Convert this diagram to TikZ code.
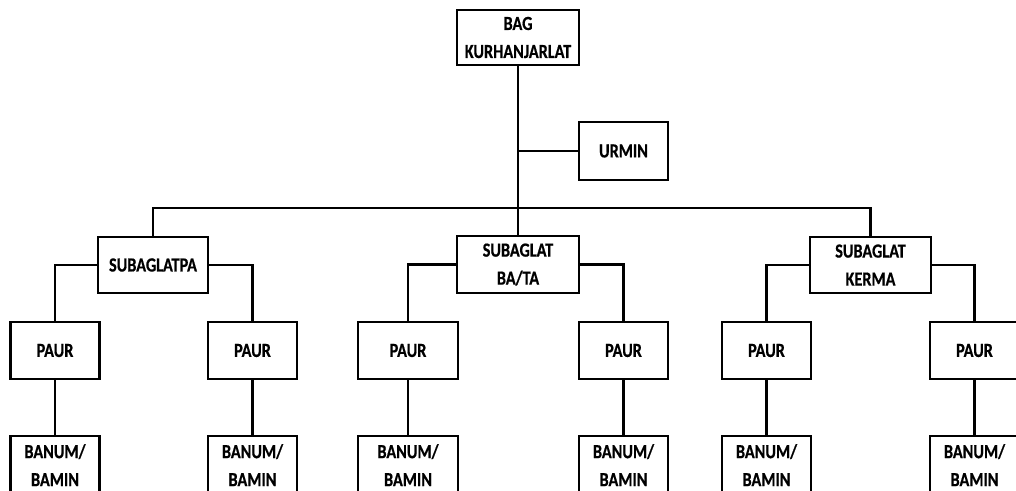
\documentclass[tikz,border=0pt]{standalone}
\usepackage{fontspec}
\newfontfamily\orgfont[FakeStretch=0.81,BoldFont={Carlito Bold},
  BoldFeatures={FakeBold=0.6}]{Carlito}
\usetikzlibrary{positioning}
\tikzset{
  orgbox/.style = {draw,line width=1.6pt,inner sep=0pt,align=center,
                   minimum width=66.75pt,minimum height=42.75pt,
                   font=\orgfont\bfseries\fontsize{15}{21}\selectfont},
  staffbox/.style = {orgbox,minimum height=43.5pt},
  link/.style   = {line width=1.6pt},
}

\begin{document}
\begin{tikzpicture}[x=0.75pt,y=-0.75pt,node distance=41.25pt]
  \useasboundingbox (0,0) rectangle (1016,490);
  % head and staff
  \node[orgbox,minimum width=91.5pt,minimum height=41.25pt] (bag) at (518,37.5) {BAG\\KURHANJARLAT};
  \node[orgbox,minimum height=43.5pt] (urmin) at (623.5,151) {URMIN};
  % sub sections
  \node[orgbox,minimum width=82.5pt,minimum height=42pt] (latpa) at (153,265) {SUBAGLATPA};
  \node[orgbox,minimum width=91.5pt] (bata) at (518,264.5) {SUBAGLAT\\BA/TA};
  \node[orgbox,minimum width=90.75pt,minimum height=42pt] (kerma) at (870.5,265) {SUBAGLAT\\KERMA};
  % paur row
  \node[orgbox] (paur1) at (55,350.5) {PAUR};
  \node[orgbox] (paur2) at (252.5,350.5) {PAUR};
  \node[orgbox,minimum width=75pt] (paur3) at (408,350.5) {PAUR};
  \node[orgbox] (paur4) at (623.5,350.5) {PAUR};
  \node[orgbox] (paur5) at (766.5,350.5) {PAUR};
  \node[orgbox] (paur6) at (974.5,350.5) {PAUR};
  % banum/bamin row
  \node[staffbox,below=of paur1] (banum1) {BANUM/\\BAMIN};
  \node[staffbox,below=of paur2] (banum2) {BANUM/\\BAMIN};
  \node[staffbox,minimum width=75pt,below=of paur3] (banum3) {BANUM/\\BAMIN};
  \node[staffbox,below=of paur4] (banum4) {BANUM/\\BAMIN};
  \node[staffbox,below=of paur5] (banum5) {BANUM/\\BAMIN};
  \node[staffbox,below=of paur6] (banum6) {BANUM/\\BAMIN};

  \coordinate (bus) at (518,208);
  \draw[link] (bag) -- (bata);
  \draw[link] (urmin.west) -- (urmin.west -| bag.south);
  \draw[link] (latpa.north) |- (bus) -| (kerma.north);
  \draw[link] (paur1.north) |- (latpa.west);
  \draw[link] (latpa.east) -| (paur2.north);
  \draw[link] (paur3.north) |- (bata.west);
  \draw[link] (bata.east) -| (paur4.north);
  \draw[link] (paur5.north) |- (kerma.west);
  \draw[link] (kerma.east) -| (paur6.north);
  \draw[link] (paur1) -- (banum1);
  \draw[link] (paur2) -- (banum2);
  \draw[link] (paur3) -- (banum3);
  \draw[link] (paur4) -- (banum4);
  \draw[link] (paur5) -- (banum5);
  \draw[link] (paur6) -- (banum6);
\end{tikzpicture}
\end{document}
